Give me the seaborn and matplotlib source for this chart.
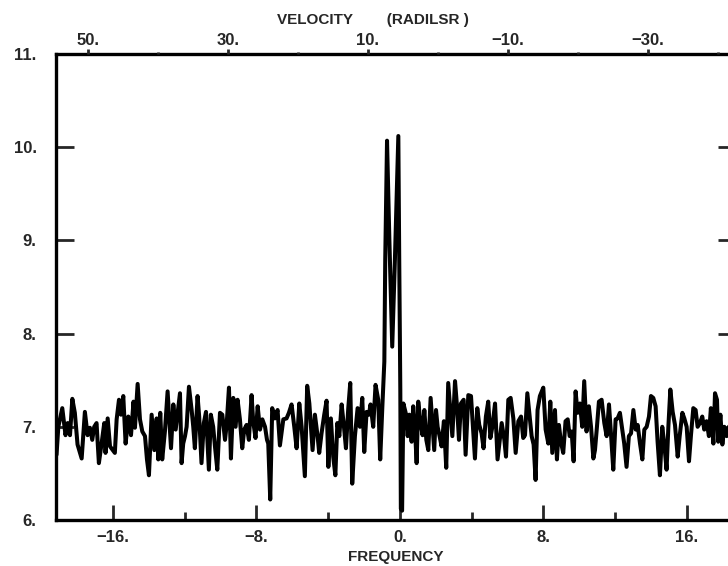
import numpy as np
import pandas as pd
import matplotlib
matplotlib.use("Agg")
import matplotlib.pyplot as plt
import seaborn as sns
from matplotlib.ticker import FixedLocator, FuncFormatter

# ---- data ----
freq = [
    -19.14, -19.04, -18.82, -18.64, -18.52, -18.39, -18.26, -18.12, -17.97, -17.74,
    -17.56, -17.41, -17.28, -17.15, -17.04, -16.91, -16.78, -16.63, -16.48, -16.41,
    -16.29, -16.16, -15.89, -15.79, -15.66, -15.55, -15.42, -15.29, -15.14, -14.99,
    -14.85, -14.77, -14.62, -14.49, -14.36, -14.21, -14.10, -13.99, -13.84, -13.69,
    -13.56, -13.47, -13.36, -13.25, -13.10, -12.95,
    -12.76, -12.63, -12.50, -12.39, -12.26, -12.17, -12.08, -11.98, -11.89, -11.76,
    -11.61, -11.52, -11.43, -11.28, -11.19, -11.06, -10.93, -10.81, -10.65, -10.54,
    -10.41, -10.31, -10.18, -10.03, -9.90, -9.75, -9.66, -9.53, -9.42, -9.29,
    -9.16, -9.05, -8.92, -8.79, -8.68, -8.55, -8.42, -8.27, -8.18, -8.05,
    -7.93, -7.80, -7.67, -7.52, -7.41, -7.34, -7.23, -7.12, -6.97, -6.82,
    -6.69, -6.50, -6.32, -6.19, -6.04, -5.89, -5.76, -5.61, -5.48, -5.30,
    -5.17, -5.05, -4.96, -4.87, -4.74, -4.59, -4.50, -4.37, -4.22, -4.09,
    -3.99, -3.85, -3.72, -3.60, -3.49, -3.38, -3.25, -3.12, -3.01, -2.88,
    -2.77, -2.66, -2.51, -2.36, -2.23, -2.10, -1.99, -1.86, -1.73, -1.64,
    -1.49, -1.36, -1.21, -1.10, -0.98,
    -0.87, -0.82, -0.72, -0.59, -0.43, -0.28, -0.09, -0.04, 0.02, 0.05, 0.12, 0.19,
    0.32, 0.43, 0.52, 0.65, 0.74, 0.84, 0.93, 1.02, 1.15, 1.26,
    1.36, 1.47, 1.58, 1.71, 1.82, 1.91, 2.01, 2.10, 2.23, 2.32,
    2.45, 2.58, 2.69, 2.81, 2.92, 3.07, 3.18, 3.29, 3.40, 3.55,
    3.66, 3.81, 3.96, 4.07, 4.18, 4.31, 4.42, 4.55, 4.66, 4.79,
    4.92, 5.04, 5.15, 5.30, 5.44,
    5.67, 5.82, 5.91, 6.04, 6.17, 6.32, 6.45, 6.60, 6.75, 6.87,
    6.97, 7.10, 7.21, 7.34, 7.45, 7.56, 7.67, 7.80, 7.99, 8.12,
    8.27, 8.38, 8.49, 8.64, 8.75, 8.86, 8.97, 9.10, 9.23, 9.35,
    9.46, 9.57, 9.68, 9.79, 9.90, 10.03, 10.16, 10.27, 10.40, 10.53,
    10.65, 10.78, 10.87, 10.98, 11.09, 11.24, 11.39, 11.52, 11.65,
    11.76, 11.89, 12.02, 12.13, 12.26, 12.39, 12.50, 12.63, 12.76, 12.88,
    13.01, 13.14, 13.25, 13.38, 13.51, 13.62, 13.75, 13.88, 13.99, 14.12,
    14.25, 14.36, 14.49, 14.62, 14.73, 14.86, 14.96, 15.07, 15.20, 15.33,
    15.48, 15.59, 15.74, 15.85, 15.98, 16.11, 16.22, 16.35, 16.48, 16.59,
    16.72, 16.85, 16.96, 17.09, 17.22, 17.33, 17.47, 17.56, 17.67, 17.74,
    17.86, 17.97, 18.08, 18.21, 18.40, 18.60,
]
intensity = [
    6.70, 7.00, 7.20, 6.91, 7.04, 6.91, 7.30, 7.15, 6.81, 6.66,
    7.16, 6.91, 6.99, 6.86, 7.00, 7.04, 6.61, 6.82, 7.04, 6.72,
    7.09, 6.79, 6.72, 7.08, 7.29, 7.13, 7.33, 6.82, 7.11, 6.91,
    7.27, 6.99, 7.46, 7.08, 6.95, 6.90, 6.65, 6.48, 7.13, 6.75,
    7.09, 6.65, 7.15, 6.65, 6.95, 7.38,
    6.77, 7.24, 6.97, 7.15, 7.36, 6.61, 6.82, 6.90, 7.00, 7.43,
    7.18, 7.00, 6.77, 7.33, 7.11, 6.61, 7.04, 7.16, 6.54, 7.13,
    7.00, 6.79, 6.54, 7.15, 7.13, 6.86, 7.02, 7.42, 6.66, 7.31,
    7.00, 7.29, 7.08, 6.77, 6.97, 7.02, 6.86, 7.34, 7.06, 6.88,
    7.22, 6.97, 7.08, 7.00, 6.86, 6.82, 6.22, 7.20, 7.09, 7.18,
    6.80, 7.08, 7.09, 7.15, 7.24, 7.00, 6.77, 7.25, 7.00, 6.47,
    7.44, 7.25, 7.00, 6.75, 7.13, 6.90, 6.72, 6.93, 7.13, 7.28,
    6.57, 7.09, 6.68, 6.48, 7.04, 6.90, 7.24, 7.00, 6.77, 7.20,
    7.47, 6.39, 6.90, 7.20, 7.00, 7.31, 6.73, 7.16, 7.13, 7.24,
    7.00, 7.45, 7.29, 6.65, 7.22,
    7.70, 8.80, 10.07, 9.01, 7.86, 8.80, 10.12, 8.80, 7.40, 6.12, 6.10, 7.25,
    7.15, 6.90, 7.13, 6.84, 7.22, 6.97, 6.61, 7.27, 7.04, 6.91,
    7.18, 6.86, 6.75, 7.31, 7.00, 6.75, 7.18, 7.00, 6.88, 6.79,
    7.06, 6.56, 7.47, 7.18, 6.90, 7.49, 7.22, 6.86, 7.25, 7.29,
    6.70, 7.34, 7.33, 7.00, 6.66, 7.20, 7.02, 6.93, 6.77, 7.11,
    7.27, 6.88, 7.00, 7.25, 6.65,
    7.04, 6.86, 6.68, 7.29, 7.31, 7.09, 6.72, 7.06, 7.11, 6.88,
    6.91, 7.36, 7.15, 6.90, 6.81, 6.43, 7.18, 7.33, 7.42, 6.97,
    6.82, 7.27, 6.72, 7.18, 6.65, 7.02, 6.84, 6.72, 7.06, 7.08,
    6.90, 6.95, 6.63, 7.38, 7.15, 7.25, 7.00, 7.49, 6.95, 7.22,
    7.00, 6.66, 6.75, 7.00, 7.27, 7.29, 7.04, 6.90, 7.24,
    6.93, 6.54, 7.08, 7.09, 7.15, 6.97, 6.82, 6.57, 6.90, 6.93,
    7.18, 6.97, 7.02, 6.82, 6.65, 6.97, 7.00, 7.11, 7.33, 7.31,
    7.22, 6.84, 6.48, 7.00, 6.82, 6.54, 7.00, 7.40, 7.16, 7.02,
    6.68, 6.90, 7.15, 7.09, 7.00, 6.63, 6.91, 7.20, 7.18, 7.00,
    7.04, 7.11, 6.97, 7.06, 6.90, 7.20, 6.82, 7.36, 7.29, 6.84,
    7.13, 6.81, 7.00, 6.90, 7.05, 6.95,
]

y_ticks = [6, 7, 8, 9, 10, 11]
freq_major = [-16, -8, 0, 8, 16]
freq_minor = [-12, -4, 4, 12]
vel_major = [50, 30, 10, -10, -30]
vel_minor = [40, 20, 0, -20, -40]
VEL_AT_ZERO = 5.43      # velocity at frequency 0
VEL_PER_FREQ = 2.563    # velocity change per frequency unit
XLIM = (-19.17, 18.73)
YLIM = (6, 11)

sns.set_style("white")
plt.rcParams["font.family"] = ["Liberation Sans", "DejaVu Sans"]
plt.rcParams["font.weight"] = "bold"


def fmt(v, _pos=None):
    s = f"{abs(v):.0f}."
    return ("\u2212" + s) if v < 0 else s


def f2v(f):
    return VEL_AT_ZERO - VEL_PER_FREQ * f


fig = plt.figure(figsize=(7.28, 5.66), dpi=100)
ax = fig.add_axes([56 / 728, 46 / 566, 680 / 728, 466 / 566])

df = pd.DataFrame({"freq": freq, "intensity": intensity})
sns.lineplot(data=df, x="freq", y="intensity", ax=ax, color="black",
             lw=2.9, estimator=None, sort=False)

ax.set_xlim(*XLIM)
ax.set_ylim(*YLIM)
ax.set_xlabel("")
ax.set_ylabel("")

ax.xaxis.set_major_locator(FixedLocator(freq_major))
ax.xaxis.set_minor_locator(FixedLocator(freq_minor))
ax.xaxis.set_major_formatter(FuncFormatter(fmt))
ax.yaxis.set_major_locator(FixedLocator(y_ticks))
ax.yaxis.set_major_formatter(FuncFormatter(fmt))

ax.tick_params(axis="x", which="major", direction="in", length=10.8, width=2,
               top=True, bottom=True, labelsize=12, pad=7)
ax.tick_params(axis="x", which="minor", direction="in", length=5.8, width=2,
               top=True, bottom=True)
ax.tick_params(axis="y", which="major", direction="in", length=13, width=2,
               left=True, right=True, labelsize=12, pad=14)
ax.tick_params(axis="y", which="minor", left=False, right=False)
for s in ax.spines.values():
    s.set_linewidth(2.4)
    s.set_color("black")
    s.set_visible(True)

ax2 = ax.twiny()
ax2.set_xlim(f2v(XLIM[0]), f2v(XLIM[1]))
ax2.xaxis.set_major_locator(FixedLocator(vel_major))
ax2.xaxis.set_minor_locator(FixedLocator(vel_minor))
ax2.xaxis.set_major_formatter(FuncFormatter(fmt))
ax2.tick_params(axis="x", which="major", direction="out", length=3.6, width=2,
                labelsize=12, pad=1)
ax2.tick_params(axis="x", which="minor", direction="out", length=1.5, width=2)
for s in ax2.spines.values():
    s.set_visible(False)
ax2.grid(False)
ax.grid(False)

fig.text(372.5 / 728, 1 - 24 / 566, "VELOCITY        (RADILSR )",
         ha="center", va="baseline", fontsize=11, fontweight="bold")
fig.text(396 / 728, 5 / 566, "FREQUENCY", ha="center", va="baseline",
         fontsize=11, fontweight="bold")

fig.savefig("out.png", dpi=100)
